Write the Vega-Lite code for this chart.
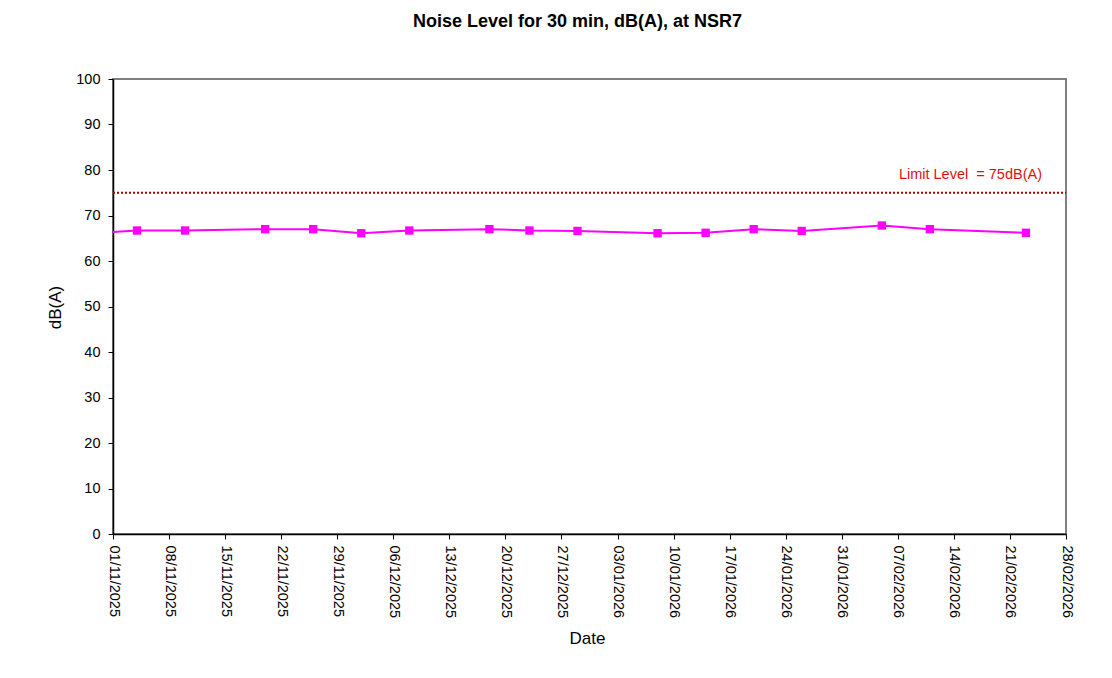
{
  "$schema": "https://vega.github.io/schema/vega-lite/v6.json",
  "width": 953,
  "height": 455,
  "autosize": "none",
  "padding": {"left": 113, "top": 79, "right": 46, "bottom": 144},
  "background": "white",
  "title": {
    "text": "Noise Level for 30 min, dB(A), at NSR7",
    "font": "Liberation Sans",
    "fontSize": 18,
    "fontWeight": "bold",
    "color": "black",
    "anchor": "middle",
    "dx": -12,
    "offset": 40
  },
  "config": {
    "view": {"stroke": "#808080", "strokeWidth": 2},
    "axis": {
      "labelFont": "Liberation Sans",
      "titleFont": "Liberation Sans",
      "labelFontSize": 14.5,
      "titleFontSize": 17,
      "titleFontWeight": "normal",
      "labelColor": "black",
      "titleColor": "black",
      "domainColor": "black",
      "domainWidth": 1.5,
      "tickColor": "black",
      "tickSize": 5,
      "grid": false
    }
  },
  "datasets": {
    "noise": [
      {"date": "2025-10-28", "level": 66.0},
      {"date": "2025-11-04", "level": 66.7},
      {"date": "2025-11-10", "level": 66.7},
      {"date": "2025-11-20", "level": 67.0},
      {"date": "2025-11-26", "level": 67.0},
      {"date": "2025-12-02", "level": 66.1},
      {"date": "2025-12-08", "level": 66.7},
      {"date": "2025-12-18", "level": 67.0},
      {"date": "2025-12-23", "level": 66.7},
      {"date": "2025-12-29", "level": 66.6},
      {"date": "2026-01-08", "level": 66.1},
      {"date": "2026-01-14", "level": 66.2},
      {"date": "2026-01-20", "level": 67.0},
      {"date": "2026-01-26", "level": 66.6},
      {"date": "2026-02-05", "level": 67.8},
      {"date": "2026-02-11", "level": 67.0},
      {"date": "2026-02-23", "level": 66.2}
    ],
    "limitLine": [
      {"date": "2025-11-01", "level": 75},
      {"date": "2026-02-28", "level": 75}
    ],
    "limitLabel": [
      {"date": "2026-02-25", "level": 75, "label": "Limit Level \u00a0= 75dB(A)"}
    ]
  },
  "encoding": {
    "x": {
      "field": "date",
      "type": "temporal",
      "title": "Date",
      "scale": {
        "type": "utc",
        "domain": [
          {"year": 2025, "month": 11, "date": 1, "utc": true},
          {"year": 2026, "month": 2, "date": 28, "utc": true}
        ]
      },
      "axis": {
        "labelExpr": "utcFormat(datum.value, '%d/%m/%Y')",
        "labelAngle": 90,
        "labelAlign": "left",
        "labelBaseline": "middle",
        "labelPadding": 6,
        "labelOverlap": false,
        "labelFlush": false,
        "titleX": 474,
        "titleY": 104,
        "titleAlign": "center",
        "titleBaseline": "middle",
        "values": [
          {"year": 2025, "month": 11, "date": 1, "utc": true},
          {"year": 2025, "month": 11, "date": 8, "utc": true},
          {"year": 2025, "month": 11, "date": 15, "utc": true},
          {"year": 2025, "month": 11, "date": 22, "utc": true},
          {"year": 2025, "month": 11, "date": 29, "utc": true},
          {"year": 2025, "month": 12, "date": 6, "utc": true},
          {"year": 2025, "month": 12, "date": 13, "utc": true},
          {"year": 2025, "month": 12, "date": 20, "utc": true},
          {"year": 2025, "month": 12, "date": 27, "utc": true},
          {"year": 2026, "month": 1, "date": 3, "utc": true},
          {"year": 2026, "month": 1, "date": 10, "utc": true},
          {"year": 2026, "month": 1, "date": 17, "utc": true},
          {"year": 2026, "month": 1, "date": 24, "utc": true},
          {"year": 2026, "month": 1, "date": 31, "utc": true},
          {"year": 2026, "month": 2, "date": 7, "utc": true},
          {"year": 2026, "month": 2, "date": 14, "utc": true},
          {"year": 2026, "month": 2, "date": 21, "utc": true},
          {"year": 2026, "month": 2, "date": 28, "utc": true}
        ]
      }
    },
    "y": {
      "field": "level",
      "type": "quantitative",
      "title": "dB(A)",
      "scale": {"domain": [0, 100]},
      "axis": {
        "values": [0, 10, 20, 30, 40, 50, 60, 70, 80, 90, 100],
        "labelPadding": 8,
        "titleAngle": -90,
        "titleX": -58,
        "titleY": 228,
        "titleAlign": "center",
        "titleBaseline": "middle"
      }
    }
  },
  "layer": [
    {
      "data": {"name": "limitLine"},
      "mark": {"type": "line", "color": "#B00000", "strokeWidth": 2, "strokeDash": [2, 2]},
      "encoding": {}
    },
    {
      "data": {"name": "limitLabel"},
      "mark": {"type": "text", "color": "#DD1111", "font": "Liberation Sans", "fontSize": 14.5, "align": "right", "baseline": "middle", "dy": -18},
      "encoding": {
        "text": {"field": "label"}
      }
    },
    {
      "data": {"name": "noise"},
      "mark": {"type": "line", "color": "#FF00FF", "strokeWidth": 2, "clip": true},
      "encoding": {}
    },
    {
      "data": {"name": "noise"},
      "mark": {"type": "point", "shape": "square", "filled": true, "color": "#FF00FF", "size": 70, "opacity": 1, "clip": true},
      "encoding": {}
    }
  ]
}
